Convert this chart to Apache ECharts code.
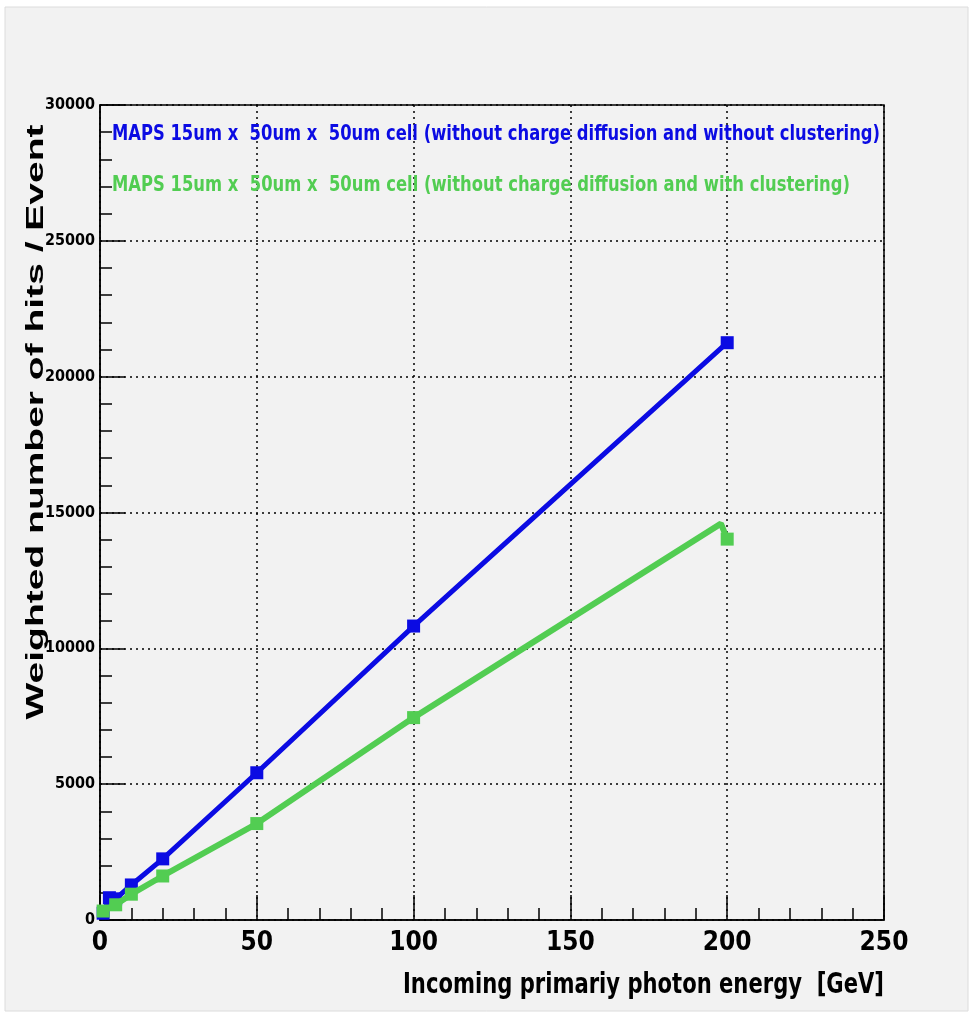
<!DOCTYPE html>
<html>
<head>
<meta charset="utf-8">
<script src="https://cdn.jsdelivr.net/npm/echarts@6/dist/echarts.min.js"></script>
<style>
html,body{margin:0;padding:0;background:#ffffff;}
#chart{width:973px;height:1019px;}
</style>
</head>
<body>
<div id="chart"></div>
<script>
// ---- data ----
const seriesNames = [
  'MAPS 15um x  50um x  50um cell (without charge diffusion and without clustering)',
  'MAPS 15um x  50um x  50um cell (without charge diffusion and with clustering)'
];
const blueEnergy = [1, 3, 5, 10, 20, 50, 100, 200];
const blueHits   = [250, 820, 780, 1290, 2250, 5420, 10820, 21250];
const greenEnergy = [1, 5, 10, 20, 50, 100, 200];
const greenHits   = [330, 560, 950, 1620, 3550, 7450, 14020];
const greenLinePeak = [198, 14590];   // line vertex just before the last point
const xTicks = [0, 50, 100, 150, 200, 250];
const yTicks = [0, 5000, 10000, 15000, 20000, 25000, 30000];
const xTitle = 'Incoming primariy photon energy  [GeV]';
const yTitle = 'Weighted number of hits / Event';

const BLUE = '#0b0be3';
const GREEN = '#52cd52';
const NARROW = "'Liberation Sans Narrow','DejaVu Sans Condensed','Arial Narrow',sans-serif";
const WIDE = "'Liberation Sans','DejaVu Sans',sans-serif";

// measure text to fit the squeezed/stretched look of the original picture
const mctx = document.createElement('canvas').getContext('2d');
function fitScale(text, font, target) {
  mctx.font = font;
  return target / mctx.measureText(text).width;
}
const legendFont = "bold 21px " + NARROW;
const xTitleFont = "bold 28px " + NARROW;
const yTitleFont = "bold 24px " + WIDE;

const blueData = blueEnergy.map((e, i) => [e, blueHits[i]]);
const greenData = greenEnergy.map((e, i) => [e, greenHits[i]]);
greenData.splice(greenData.length - 1, 0, {value: greenLinePeak, symbol: 'none'});

const chart = echarts.init(document.getElementById('chart'), null, {renderer: 'canvas'});
const option = {
  backgroundColor: '#ffffff',
  animation: false,
  graphic: [
    {type: 'rect', z: -10, silent: true, shape: {x: 5, y: 7, width: 963, height: 1004},
     style: {fill: '#f2f2f2', stroke: '#dcdcdc', lineWidth: 1}},
    {type: 'text', z: 10, x: 36, y: 422, rotation: Math.PI / 2,
     scaleX: fitScale(yTitle, yTitleFont, 595),
     style: {text: yTitle, font: yTitleFont, fill: '#000', textAlign: 'center', textVerticalAlign: 'middle'}},
    {type: 'text', z: 10, x: 884, y: 986,
     scaleX: fitScale(xTitle, xTitleFont, 481),
     style: {text: xTitle, font: xTitleFont, fill: '#000', textAlign: 'right', textVerticalAlign: 'middle'}},
    {type: 'text', z: 10, x: 112, y: 135,
     scaleX: fitScale(seriesNames[0], legendFont, 768),
     style: {text: seriesNames[0], font: legendFont, fill: BLUE, textAlign: 'left', textVerticalAlign: 'middle'}},
    {type: 'text', z: 10, x: 112, y: 186,
     scaleX: fitScale(seriesNames[1], legendFont, 738),
     style: {text: seriesNames[1], font: legendFont, fill: GREEN, textAlign: 'left', textVerticalAlign: 'middle'}}
  ],
  grid: {left: 100, right: 89, top: 105, bottom: 99, show: true,
         borderColor: '#000', borderWidth: 1.5, backgroundColor: 'transparent'},
  xAxis: {
    type: 'value', min: xTicks[0], max: xTicks[xTicks.length - 1], interval: 50,
    axisLine: {show: true, onZero: false, lineStyle: {color: '#000', width: 1.5}},
    axisTick: {show: true, inside: true, length: 25, lineStyle: {color: '#000', width: 1.5}},
    minorTick: {show: true, splitNumber: 5, length: 12, lineStyle: {color: '#000', width: 1.5}},
    axisLabel: {fontFamily: NARROW, fontWeight: 'bold', fontSize: 26, color: '#000', margin: 10,
                formatter: v => String(v)},
    splitLine: {show: true, lineStyle: {color: '#000', type: [2, 4], width: 1.5}}
  },
  yAxis: {
    type: 'value', min: yTicks[0], max: yTicks[yTicks.length - 1], interval: 5000,
    axisLine: {show: true, onZero: false, lineStyle: {color: '#000', width: 1.5}},
    axisTick: {show: true, inside: true, length: 25, lineStyle: {color: '#000', width: 1.5}},
    minorTick: {show: true, splitNumber: 5, length: 12, lineStyle: {color: '#000', width: 1.5}},
    axisLabel: {fontFamily: NARROW, fontWeight: 'bold', fontSize: 16, color: '#000', margin: 5,
                formatter: v => String(v)},
    splitLine: {show: true, lineStyle: {color: '#000', type: [2, 4], width: 1.5}}
  },
  series: [
    {name: seriesNames[0], type: 'line', data: blueData, color: BLUE,
     symbol: 'rect', symbolSize: 13, showSymbol: true,
     lineStyle: {color: BLUE, width: 5}, itemStyle: {color: BLUE}, z: 3},
    {name: seriesNames[1], type: 'line', data: greenData, color: GREEN,
     symbol: 'rect', symbolSize: 13, showSymbol: true,
     lineStyle: {color: GREEN, width: 6}, itemStyle: {color: GREEN}, z: 4}
  ]
};
chart.setOption(option);
</script>
</body>
</html>
